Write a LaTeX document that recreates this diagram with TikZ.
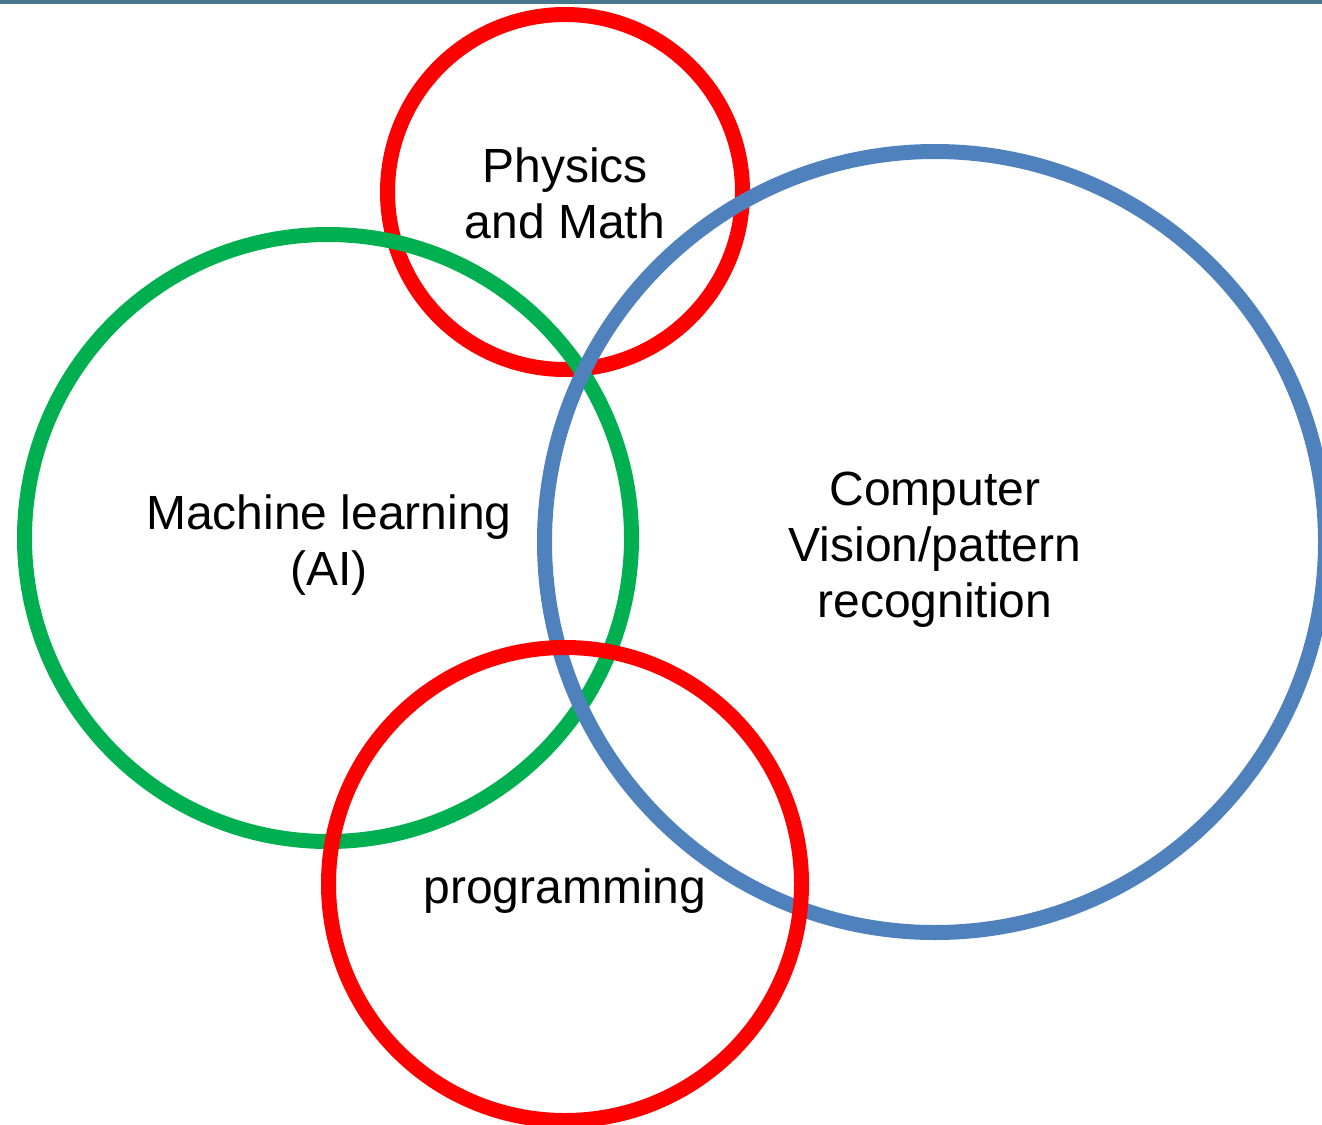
\documentclass[tikz,border=0pt]{standalone}
\usepackage{fontspec}
\setmainfont{Liberation Sans}
\definecolor{ringred}{HTML}{FF0000}
\definecolor{ringgreen}{HTML}{00B050}
\definecolor{ringblue}{HTML}{4F81BD}
\definecolor{topbar}{HTML}{47788E}
\begin{document}
\begin{tikzpicture}[x=1pt,y=-1pt,
    ring/.style={circle,draw,line width=15pt,inner sep=0pt},
    label/.style={align=center,inner sep=0pt,font=\fontsize{48}{56}\selectfont}]
        \useasboundingbox (0,0) rectangle (1322,1124);
        \fill[topbar] (0,0) rectangle (1322,4);

        \node[ring,ringred,minimum size=355pt] at (565, 192) (phys) {};
        \node[ring,ringgreen,minimum size=607pt] at (328, 538) (ml) {};
        \node[ring,ringblue,minimum size=781pt] at (935, 542) (cv) {};
        \node[ring,ringred,minimum size=473pt] at (565, 884) (prog) {};

        \node[label] at (565, 193) (physlabel) {Physics\\and Math};
        \node[label] at (329, 545) (mllabel) {Machine learning\\(AI)};
        \node[label] at (935, 550) (cvlabel) {Computer\\Vision/pattern\\recognition};
        \node[label] at (565, 891) (proglabel) {programming};
    \end{tikzpicture}
\end{document}
